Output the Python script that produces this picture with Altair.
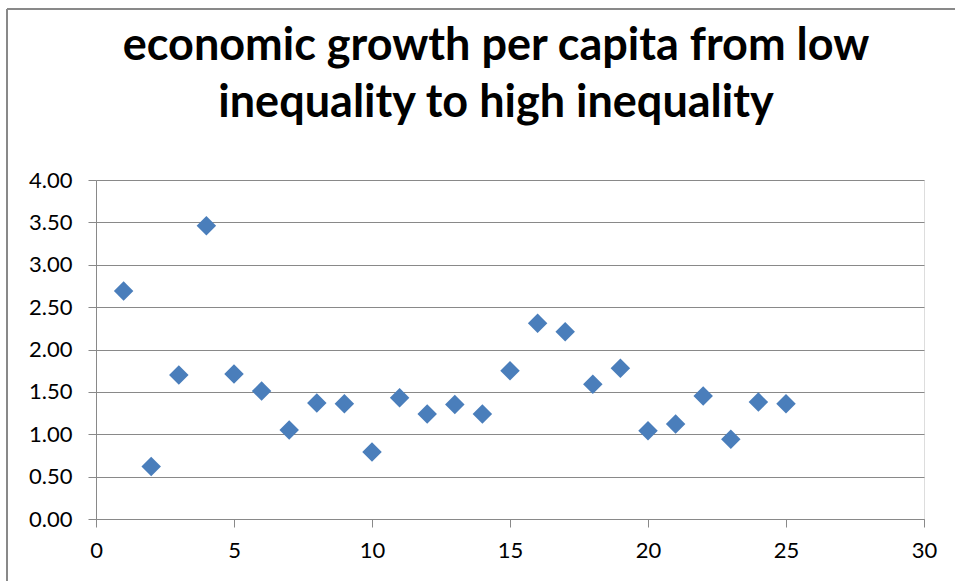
import altair as alt
import pandas as pd

rank = list(range(1, 26))
growth = [2.69, 0.62, 1.70, 3.46, 1.71, 1.51, 1.05, 1.37, 1.36, 0.79,
          1.43, 1.24, 1.35, 1.24, 1.75, 2.31, 2.21, 1.59, 1.78, 1.04,
          1.12, 1.45, 0.94, 1.38, 1.36]
x_ticks = [0, 5, 10, 15, 20, 25, 30]
y_ticks = [0, 0.5, 1, 1.5, 2, 2.5, 3, 3.5, 4]
title_lines = ["economic growth per capita from low", "inequality to high inequality"]

df = pd.DataFrame({"rank": rank, "growth": growth})

GRAY = "#898989"
FONT = "Lato"

points = alt.Chart(df).mark_point(
    shape="diamond", filled=True, size=380, color="#4A7EBB", opacity=1
).encode(
    x=alt.X("rank:Q", scale=alt.Scale(domain=[0, 30], nice=False),
            axis=alt.Axis(values=x_ticks, title=None, grid=False, tickSize=8,
                          labelPadding=13, domainColor=GRAY, tickColor=GRAY,
                          labelFontSize=22, labelColor="#000000", labelFont=FONT,
                          labelFlush=False)),
    y=alt.Y("growth:Q", scale=alt.Scale(domain=[0, 4], nice=False),
            axis=alt.Axis(values=y_ticks, format=".2f", title=None, grid=True,
                          gridColor=GRAY, gridWidth=1.2, tickSize=8, labelPadding=16,
                          domainColor=GRAY, tickColor=GRAY, labelFontSize=22,
                          labelColor="#000000", labelFont=FONT, labelFlush=False)),
)

border_left = alt.Chart(df).mark_rule(color=GRAY, strokeWidth=2).encode(
    x=alt.value(-89), y=alt.value(-171), y2=alt.value(420)
)
border_top = alt.Chart(df).mark_rule(color=GRAY, strokeWidth=2).encode(
    x=alt.value(-89), x2=alt.value(880), y=alt.value(-171)
)

title1 = alt.Chart(pd.DataFrame({"t": [title_lines[0]]})).mark_text(
    font=FONT, fontSize=45, fontWeight="bold", color="#000000",
    align="center", baseline="alphabetic"
).encode(text="t:N", x=alt.value(400), y=alt.value(-120))

title2 = alt.Chart(pd.DataFrame({"t": [title_lines[1]]})).mark_text(
    font=FONT, fontSize=45, fontWeight="bold", color="#000000",
    align="center", baseline="alphabetic"
).encode(text="t:N", x=alt.value(400), y=alt.value(-63))

chart = alt.layer(border_left, border_top, points, title1, title2).properties(
    width=828,
    height=339,
    padding={"left": 96, "top": 180, "right": 31, "bottom": 62},
    autosize=alt.AutoSizeParams(type="none"),
).configure_view(stroke=None).configure(background="white")

chart.save("out.html", embed_options={"renderer": "svg", "actions": False})
